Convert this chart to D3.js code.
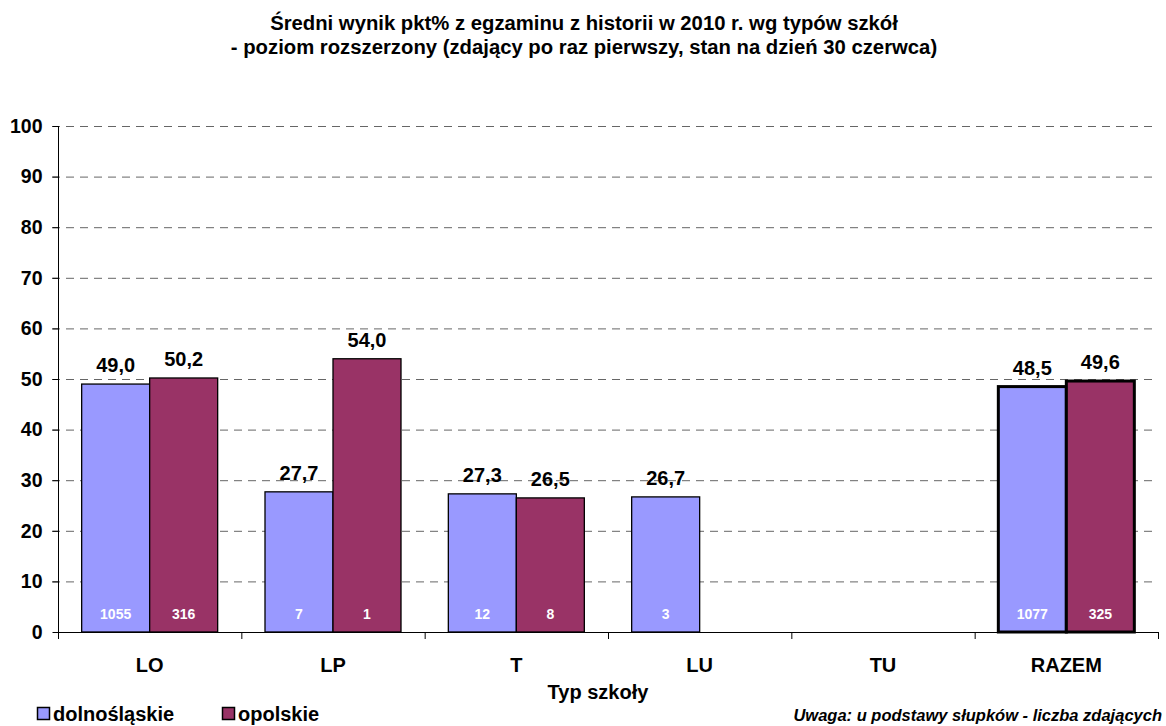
<!DOCTYPE html>
<html><head><meta charset="utf-8">
<script src="https://cdn.jsdelivr.net/npm/d3@7"></script>
<style>body{margin:0;background:#fff;} text{font-family:Arial,"Liberation Sans",sans-serif;}</style>
</head><body><svg id="c" width="1166" height="726"></svg>
<script>
const categories = ["LO","LP","T","LU","TU","RAZEM"];
const seriesNames = ["dolnośląskie","opolskie"];
const dolnoslaskie = [49.0, 27.7, 27.3, 26.7, null, 48.5];
const opolskie = [50.2, 54.0, 26.5, null, null, 49.6];
const countsDoln = ["1055","7","12","3",null,"1077"];
const countsOpol = ["316","1","8",null,null,"325"];
const yTicks = [0,10,20,30,40,50,60,70,80,90,100];
const colors = ["#9999FF","#993366"];

(function(){
const svg = d3.select("#c");
const mL = 58, mR = 1158, mT = 126, mB = 632;
const x = d3.scaleBand().domain(categories).range([mL,mR]).paddingInner(0).paddingOuter(0);
const y = d3.scaleLinear().domain([0,100]).range([mB,mT]);
const bw = 68;
function barX(cat,i){ return x(cat) + x.bandwidth()/2 + (i-1)*bw; }

// title
const title = svg.append("text").attr("text-anchor","middle")
  .style("font-weight","bold").style("font-size","20.3px");
title.append("tspan").attr("x",584).attr("y",30).text("Średni wynik pkt% z egzaminu z historii w 2010 r. wg typów szkół");
title.append("tspan").attr("x",584).attr("y",54).text("- poziom rozszerzony (zdający po raz pierwszy, stan na dzień 30 czerwca)");

// gridlines
svg.append("g").selectAll("line").data(yTicks.filter(d=>d>0)).join("line")
  .attr("x1",mL-6).attr("x2",mR).attr("y1",d=>y(d)+0.5).attr("y2",d=>y(d)+0.5)
  .attr("stroke","#666").attr("stroke-width",1).attr("stroke-dasharray","8,6");

// y axis
const yAxis = d3.axisLeft(y).tickValues(yTicks).tickSize(6).tickPadding(10).tickFormat(d3.format("d"));
const gy = svg.append("g").attr("transform",`translate(${mL+0.5},0)`).call(yAxis);
gy.select(".domain").attr("d",`M0,${mT}V${mB+7}`).attr("stroke","#000");
gy.selectAll(".tick line").attr("stroke","#000");
gy.selectAll("text").style("font-size","19.5px").style("font-weight","bold").attr("fill","#000");

// x axis
svg.append("line").attr("x1",mL).attr("x2",mR).attr("y1",mB+0.5).attr("y2",mB+0.5).attr("stroke","#000");
svg.append("g").selectAll("line").data(categories).join("line")
  .attr("x1",d=>x(d)+x.bandwidth()+0.5).attr("x2",d=>x(d)+x.bandwidth()+0.5)
  .attr("y1",mB).attr("y2",mB+7).attr("stroke","#000");
svg.append("g").selectAll("text").data(categories).join("text")
  .attr("x",d=>x(d)+x.bandwidth()/2).attr("y",mB+40).attr("text-anchor","middle")
  .style("font-size","20px").style("font-weight","bold").text(d=>d);

const series = [dolnoslaskie, opolskie];
const counts = [countsDoln, countsOpol];
series.forEach((vals,i)=>{
  const data = categories.map((c,k)=>({c,v:vals[k],n:counts[i][k],razem:c==="RAZEM"})).filter(d=>d.v!=null);
  const g = svg.append("g");
  g.selectAll("rect").data(data).join("rect")
    .attr("x",d=>barX(d.c,i)).attr("width",bw)
    .attr("y",d=>y(d.v)).attr("height",d=>y(0)-y(d.v))
    .attr("fill",colors[i]).attr("stroke","#000").attr("stroke-width",d=>d.razem?3:1.3);
  g.selectAll("text.v").data(data).join("text").attr("class","v")
    .attr("x",d=>barX(d.c,i)+bw/2).attr("y",d=>y(d.v)-12).attr("text-anchor","middle")
    .style("font-size","20px").style("font-weight","bold").text(d=>d3.format(".1f")(d.v).replace(".",","));
  g.selectAll("text.n").data(data).join("text").attr("class","n")
    .attr("x",d=>barX(d.c,i)+bw/2).attr("y",mB-13).attr("text-anchor","middle")
    .attr("fill","#fff").style("font-size","14px").style("font-weight","bold").text(d=>d.n);
});

// axis title
svg.append("text").attr("x",598).attr("y",699).attr("text-anchor","middle")
  .style("font-size","20px").style("font-weight","bold").text("Typ szkoły");

// legend
const lg = svg.append("g");
const lx = [37,222];
seriesNames.forEach((s,i)=>{
  lg.append("rect").attr("x",lx[i]+0.5).attr("y",707.5).attr("width",12).attr("height",12)
    .attr("fill",colors[i]).attr("stroke","#000").attr("stroke-width",1.5);
  lg.append("text").attr("x",lx[i]+16).attr("y",721).style("font-size","20px").style("font-weight","bold").text(s);
});

svg.append("text").attr("x",1162).attr("y",721).attr("text-anchor","end")
  .style("font-size","16.5px").style("font-weight","bold").style("font-style","italic")
  .text("Uwaga: u podstawy słupków - liczba zdających");
})();
</script></body></html>
